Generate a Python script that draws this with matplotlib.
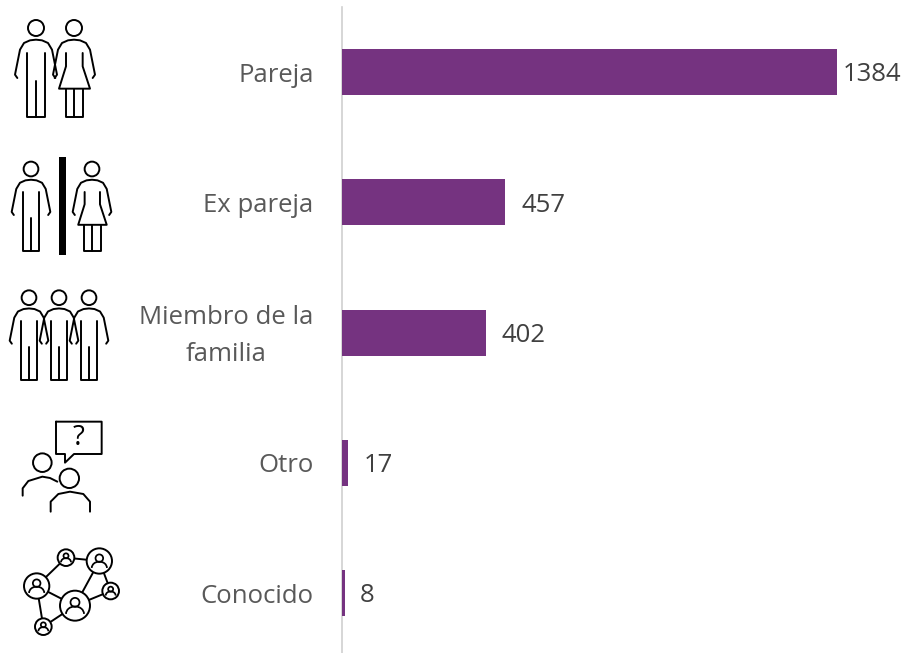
import matplotlib
matplotlib.use("Agg")
import matplotlib.pyplot as plt
from matplotlib.patches import Circle, Rectangle, Arc
from matplotlib.transforms import ScaledTranslation

plt.rcParams['font.family'] = ['Open Sans', 'DejaVu Sans']

categories = ["Pareja", "Ex pareja", "Miembro de la\nfamilia", "Otro", "Conocido"]
values = [1384, 457, 402, 17, 8]
label_gaps_px = [6, 16, 16, 16, 15]

W, H = 905, 653
BAR = "#753380"
fig = plt.figure(figsize=(W / 100, H / 100), dpi=100)

# Chart axes: spine at x=342 px, bands 130.25 px tall, first band starts at y=7 px
X0 = 342
ax = fig.add_axes([X0 / W, 0, (W - X0) / W, (H - 7) / H])
px_per_unit = 495 / 1384
ax.set_xlim(0, (W - X0) / px_per_unit)
ax.set_ylim(-0.5 + 646 / 130.25, -0.5)
ax.barh(range(len(values)), values, height=46 / 130.25, color=BAR, zorder=3)
ax.set_yticks(range(len(categories)))
ax.set_yticklabels(categories, fontsize=18.5, color="#595959", linespacing=1.62,
                   multialignment="center")
ax.tick_params(axis="y", length=0, pad=20.4)
ax.set_xticks([])
lbl = ax.get_yticklabels()[2]
lbl.set_transform(lbl.get_transform() + ScaledTranslation(0, 5.5 / 100, fig.dpi_scale_trans))
for s in ["top", "right", "bottom"]:
    ax.spines[s].set_visible(False)
ax.spines["left"].set_color("#D0D0D0")
ax.spines["left"].set_linewidth(1.2)
for i, (v, gap) in enumerate(zip(values, label_gaps_px)):
    ax.annotate(str(v), (v, i), xytext=(gap * 0.72, -2.0), textcoords="offset points",
                va="center", ha="left", fontsize=18.5, color="#404040")

# Overlay for pictograms, in pixel units of the figure
ic = fig.add_axes([0, 0, 1, 1], zorder=5)
ic.set_xlim(0, W)
ic.set_ylim(H, 0)
ic.axis("off")
ic.patch.set_alpha(0)
LW = 1.4
K = "black"


def line(xs, ys, lw=LW):
    ic.plot(xs, ys, color=K, lw=lw, solid_capstyle="round", solid_joinstyle="round")


def arms(cx, cy, s):
    pts = [(-56, 150), (-63, 140), (-48, 65), (-36, 45), (-18, 37), (0, 35), (18, 37),
           (36, 45), (48, 65), (63, 140), (56, 150)]
    line([cx + p[0] * s / 3 for p in pts], [cy + p[1] * s / 3 for p in pts])


def head(cx, cy, s):
    ic.add_patch(Circle((cx, cy), 8 * s, fill=False, ec=K, lw=LW))


def man(cx, cy, s=1.0):
    head(cx, cy, s)
    arms(cx, cy, s)
    f = s / 3
    line([cx - 26 * f, cx - 26 * f, cx + 27 * f, cx + 27 * f],
         [cy + 75 * f, cy + 267 * f, cy + 267 * f, cy + 75 * f])
    line([cx, cx], [cy + 160 * f, cy + 267 * f])


def woman(cx, cy, s=1.0):
    head(cx, cy, s)
    arms(cx, cy, s)
    f = s / 3
    line([cx - 24 * f, cx - 24 * f, cx - 45 * f, cx + 48 * f, cx + 26 * f, cx + 26 * f],
         [cy + 75 * f, cy + 115 * f, cy + 182 * f, cy + 182 * f, cy + 115 * f, cy + 75 * f])
    line([cx - 25 * f, cx - 25 * f, cx + 28 * f, cx + 28 * f],
         [cy + 182 * f, cy + 267 * f, cy + 267 * f, cy + 182 * f])
    line([cx, cx], [cy + 182 * f, cy + 267 * f])


man(36, 28)
woman(74, 28)

man(31, 169, 0.92)
ic.add_patch(Rectangle((58.7, 157), 7.3, 98, color="black", lw=0))
woman(92, 169, 0.92)

for x in (29, 59, 89):
    man(x, 297.7, 0.92)

# "Otro": two people and a speech bubble
Y0 = 280
z = lambda a, b: (a / 3, Y0 + b / 3)
bub = [z(168, 425), z(305, 425), z(305, 522), z(222, 522), z(195, 548), z(195, 522),
       z(168, 522), z(168, 425)]
line([p[0] for p in bub], [p[1] for p in bub])
ic.text(78.5, Y0 + 475 / 3, "?", fontsize=20, ha="center", va="center", color=K)
for c, r in ((z(127, 548), 9.3), (z(208, 595), 9.7)):
    ic.add_patch(Circle(c, r, fill=False, ec=K, lw=LW))
b1 = [z(68, 647), z(68, 625), z(85, 603), z(127, 590), z(150, 594), z(172, 605)]
b2 = [z(152, 695), z(152, 665), z(175, 642), z(210, 635), z(250, 642), z(270, 665), z(270, 695)]
line([p[0] for p in b1], [p[1] for p in b1])
line([p[0] for p in b2], [p[1] for p in b2])

# "Conocido": network of people
nodes = {"a": (110, 918, 38), "b": (225, 977, 45), "c": (298, 843, 38),
         "d": (198, 833, 25), "e": (332, 933, 25), "f": (130, 1040, 25)}
edges = ["ad", "dc", "cb", "ce", "be", "ab", "af", "fb"]
for e in edges:
    p, q = nodes[e[0]], nodes[e[1]]
    P, Q = z(p[0], p[1]), z(q[0], q[1])
    ic.plot([P[0], Q[0]], [P[1], Q[1]], color=K, lw=LW, zorder=2)
for n in nodes.values():
    c = z(n[0], n[1])
    r = n[2] / 3
    ic.add_patch(Circle(c, r, fc="white", ec=K, lw=LW, zorder=3))
    ic.add_patch(Circle((c[0], c[1] - r * 0.22), r * 0.3, fill=False, ec=K, lw=LW * 0.9, zorder=4))
    ic.add_patch(Arc((c[0], c[1] + r * 0.55), r * 1.2, r * 1.0, theta1=180, theta2=360,
                     ec=K, lw=LW * 0.9, zorder=4))

fig.savefig("out.png", dpi=100, facecolor="white")
